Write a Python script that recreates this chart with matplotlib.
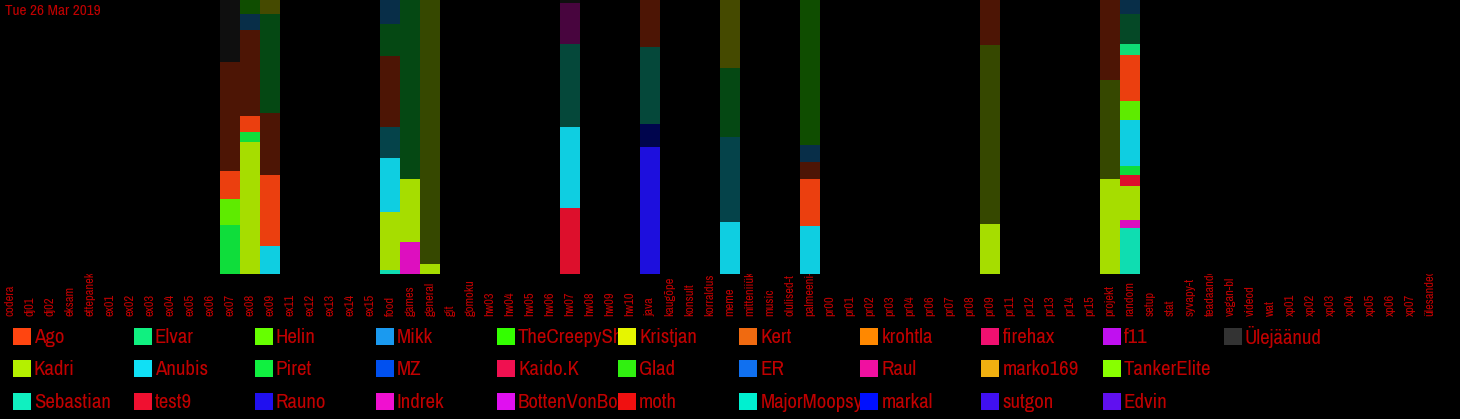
import numpy as np
import matplotlib.pyplot as plt
import matplotlib.transforms as mtransforms
from matplotlib import font_manager
from matplotlib.patches import Rectangle
from matplotlib.colors import to_rgb

# look for a narrow face, the original uses a condensed font
narrow = [f.name for f in font_manager.fontManager.ttflist
          if 'Narrow' in f.name or 'Condensed' in f.name]
dejavu_cond = [f for f in font_manager.fontManager.ttflist
               if f.name == 'DejaVu Sans' and 'Condensed' in f.fname]
if narrow:
    FAMILY, STRETCH, SCALE = [narrow[0], 'DejaVu Sans'], 'normal', 1.0
elif dejavu_cond:
    FAMILY, STRETCH, SCALE = ['DejaVu Sans'], 'condensed', 0.88
else:
    FAMILY, STRETCH, SCALE = ['Roboto', 'DejaVu Sans'], 'normal', 0.82
plt.rcParams['font.family'] = FAMILY
plt.rcParams['font.stretch'] = STRETCH

title = 'Tue 26 Mar 2019'
text_color = '#c00000'

channels = ['codera', 'dj01', 'dj02', 'eksam', 'ettepanek', 'ex01', 'ex02', 'ex03',
            'ex04', 'ex05', 'ex06', 'ex07', 'ex08', 'ex09', 'ex11', 'ex12', 'ex13',
            'ex14', 'ex15', 'food', 'games', 'general', 'git', 'gomoku', 'hw03',
            'hw04', 'hw05', 'hw06', 'hw07', 'hw08', 'hw09', 'hw10', 'java', 'kaugõpe',
            'konsult', 'korraldus', 'meme', 'mitteniiük', 'music', 'olulised-t',
            'palmeeni-', 'pr00', 'pr01', 'pr02', 'pr03', 'pr04', 'pr06', 'pr07',
            'pr08', 'pr09', 'pr11', 'pr12', 'pr13', 'pr14', 'pr15', 'projekt',
            'random', 'setup', 'stat', 'syvapy-t', 'teadaande', 'vegan-bl', 'videod',
            'wat', 'xp01', 'xp02', 'xp03', 'xp04', 'xp05', 'xp06', 'xp07', 'ülesanded']

# legend order (column by column)
users = ['Ago', 'Kadri', 'Sebastian', 'Elvar', 'Anubis', 'test9', 'Helin', 'Piret',
         'Rauno', 'Mikk', 'MZ', 'Indrek', 'TheCreepySh', 'Kaido.K', 'BottenVonBot',
         'Kristjan', 'Glad', 'moth', 'Kert', 'ER', 'MajorMoopsy', 'krohtla', 'Raul',
         'markal', 'firehax', 'marko169', 'sutgon', 'f11', 'TankerElite', 'Edvin',
         'Ülejäänud']
user_colors = ['#ff4510', '#b4f000', '#10f0c0', '#10f080', '#10e0f5', '#f01030',
               '#66ff00', '#10f040', '#2010f0', '#1a9af0', '#0050f0', '#f010d0',
               '#33ff00', '#f01050', '#e010f0', '#e6f500', '#30f010', '#f01010',
               '#f06a10', '#1070f0', '#00f0d0', '#ff8800', '#f010a0', '#0010ff',
               '#f01070', '#f0b010', '#4010f0', '#c010f0', '#88ff00', '#6010f0',
               '#333333']

# share of messages per channel in %, bottom to top ("*" = dimmed part)
ex07 = [('Piret', 17.9), ('Helin', 9.4), ('Ago', 10.3), ('Ago*', 39.9), ('Ülejäänud*', 22.5)]
ex08 = [('Kadri', 48.3), ('Piret', 3.4), ('Ago', 5.9), ('Ago*', 31.4), ('Mikk*', 5.8),
        ('TheCreepySh*', 5.2)]
ex09 = [('Anubis', 10.2), ('Ago', 25.9), ('Ago*', 22.5), ('Piret*', 36.3), ('Kristjan*', 5.1)]
food = [('Sebastian', 1.5), ('Kadri', 21.3), ('Anubis', 19.5), ('Anubis*', 11.3),
        ('Ago*', 26.0), ('Piret*', 11.6), ('Mikk*', 8.8)]
games = [('Indrek', 11.8), ('Kadri', 22.9), ('Piret*', 65.3)]
general = [('Kadri', 3.6), ('Kadri*', 96.4)]
hw07 = [('test9', 24.0), ('Anubis', 29.7), ('Sebastian*', 30.4), ('Indrek*', 14.9),
        ('Ülejäänud*', 1.0)]
java = [('Rauno', 46.4), ('markal*', 8.3), ('Sebastian*', 28.1), ('Ago*', 17.2)]
meme = [('Anubis', 19.1), ('Anubis*', 31.0), ('Piret*', 25.0), ('Kristjan*', 24.9)]
palmeeni = [('Anubis', 17.5), ('Ago', 17.2), ('Ago*', 6.3), ('Mikk*', 6.1),
            ('TheCreepySh*', 52.9)]
pr09 = [('Kadri', 18.2), ('Kadri*', 65.4), ('Ago*', 16.4)]
projekt = [('Kadri', 34.7), ('Kadri*', 36.1), ('Ago*', 29.2)]
random_ch = [('Sebastian', 16.9), ('Indrek', 2.8), ('Kadri', 12.5), ('test9', 3.9),
             ('Piret', 3.4), ('Anubis', 16.7), ('Helin', 6.9), ('Ago', 16.8),
             ('Elvar', 4.0), ('Elvar*', 10.9), ('Mikk*', 5.2)]

stacks = {'ex07': ex07, 'ex08': ex08, 'ex09': ex09, 'food': food, 'games': games,
          'general': general, 'hw07': hw07, 'java': java, 'meme': meme,
          'palmeeni-': palmeeni, 'pr09': pr09, 'projekt': projekt, 'random': random_ch}

W, H = 1460, 419
fig = plt.figure(figsize=(W / 100, H / 100), dpi=100, facecolor='black')
ax = fig.add_axes([0, 1 - 274 / H, 1440 / W, 274 / H])
ax.set_facecolor('black')


def seg_color(key):
    name = key.rstrip('*')
    rgb = np.array(to_rgb(user_colors[users.index(name)]))
    if key.endswith('*'):
        return tuple(rgb * 0.3)
    return tuple(rgb * 0.92)


for ch, segs in stacks.items():
    i = channels.index(ch)
    bottom = 0
    for key, pct in segs:
        ax.bar(i, pct, bottom=bottom, width=1, color=seg_color(key), linewidth=0)
        bottom += pct

ax.set_xlim(-0.5, len(channels) - 0.5)
ax.set_ylim(0, 100)
ax.axis('off')

# channel names, reading upwards from a common baseline, cut off at the plot edge
trans = mtransforms.blended_transform_factory(ax.transData, ax.transAxes)
label_clip = mtransforms.Bbox.from_extents(0, 0, W, H - 274)
for i, ch in enumerate(channels):
    t = ax.text(i, -42 / 274, ch, transform=trans, rotation=90, ha='center',
                va='bottom', fontsize=9 * SCALE, color=text_color)
    t.set_clip_box(label_clip)
    t.set_clip_on(True)

fig.text(5 / W, 1 - 4 / H, title, ha='left', va='top', fontsize=11 * SCALE,
         color=text_color)

# legend grid: 11 columns x 3 rows
col_w = 121.1
for k, (name, c) in enumerate(zip(users, user_colors)):
    col, row = divmod(k, 3)
    x0 = 12.7 + col * col_w
    yc = 336 + row * 32.8
    fig.add_artist(Rectangle((x0 / W, 1 - (yc + 8.5) / H), 18 / W, 17 / H,
                             transform=fig.transFigure, facecolor=c, edgecolor='none',
                             zorder=3))
    t = fig.text((x0 + 21) / W, 1 - (yc + 1) / H, name, ha='left', va='center',
                 fontsize=15 * SCALE, color=text_color, zorder=2)
    t.set_clip_box(mtransforms.Bbox.from_extents(x0, 0, x0 + col_w, H))
    t.set_clip_on(True)

fig.savefig('out.png', dpi=100, facecolor='black')
